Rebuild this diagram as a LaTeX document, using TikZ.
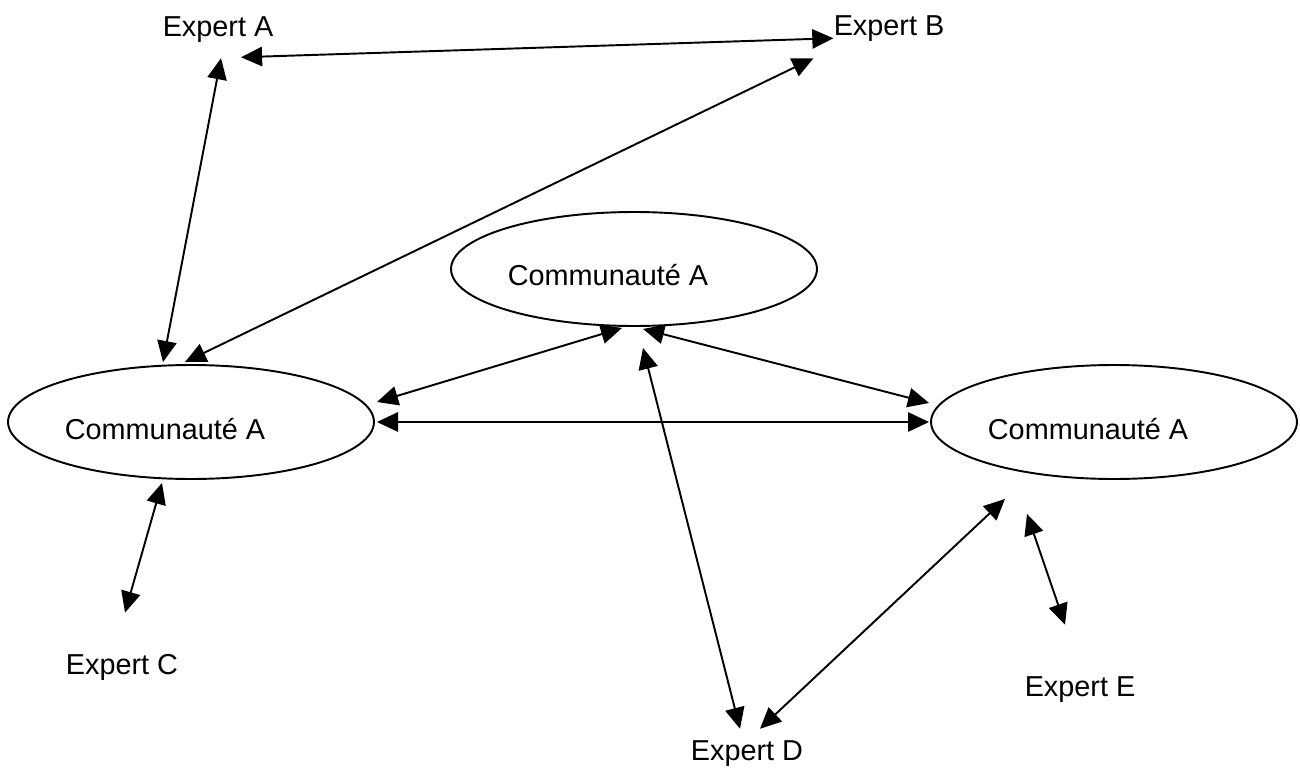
\documentclass[tikz,border=0pt]{standalone}
\usepackage{fontspec}
\setmainfont{Liberation Sans}
\usetikzlibrary{calc, shapes, positioning, arrows.meta}
\tikzstyle{commu}=[shape=ellipse, draw=black, line width=1.1pt, minimum width=7.32cm, minimum height=2.28cm, inner sep=0pt, font=\fontsize{16.4}{20}\selectfont]
\tikzstyle{expert}=[inner sep=0pt, font=\fontsize{16.4}{20}\selectfont]
\tikzstyle{lien}=[line width=1.1pt, {Triangle[length=12pt,width=11pt]}-{Triangle[length=12pt,width=11pt]}]

\begin{document}
\begin{tikzpicture}[x=0.02cm, y=-0.02cm]
\useasboundingbox (0,0) rectangle (1300,770);
%communautes
\node[commu] (ct) at (634,269) {\raisebox{-0.34cm}[0pt][0pt]{Communauté A}\hspace{1.04cm}\mbox{}};
\node[commu] (lc) at (191,422) {\raisebox{-0.34cm}[0pt][0pt]{Communauté A}\hspace{1.04cm}\mbox{}};
\node[commu] (rc) at (1114,422) {\raisebox{-0.34cm}[0pt][0pt]{Communauté A}\hspace{1.04cm}\mbox{}};
%experts
\node[expert] (ea) at (218,30) {Expert A};
\node[expert] (eb) at (889,29) {Expert B};
\node[expert] (ec) at (122,667) {Expert C};
\node[expert] (ed) at (747,754) {Expert D};
\node[expert] (ee) at (1080,690) {Expert E};
%liens entre experts et communautes
\draw[lien] ($(ea.south)+(23,14)$) -- ($(eb.south west)+(0,-4)$);
\draw[lien] ($(ea.south)+(3,15)$) -- ($(lc.north)+(-28,-2)$);
\draw[lien] ($(eb.south west)+(-20,16)$) -- ($(lc.north)+(-6,-2)$);
\draw[lien] ($(ct.south)+(-12,1)$) -- ($(lc.east)+(2,-20)$);
\draw[lien] ($(ct.south)+(9,2)$) -- ($(rc.west)+(-1,-19)$);
\draw[lien] ($(lc.east)+(2,0)$) -- ($(rc.west)+(-1,0)$);
\draw[lien] ($(ct.south)+(9,21)$) -- ($(ed.north)+(-7,-12)$);
\draw[lien] ($(rc.south)+(-109,19)$) -- ($(ed.north)+(13,-12)$);
\draw[lien] ($(rc.south)+(-87,34)$) -- ($(ee.north)+(-15,-52)$);
\draw[lien] ($(lc.south)+(-29,3)$) -- ($(ec.north)+(3,-41)$);
\end{tikzpicture}
\end{document}
